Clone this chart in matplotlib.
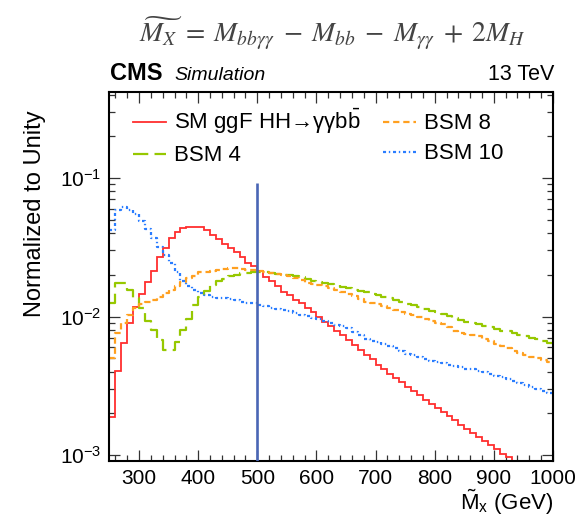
import numpy as np
import matplotlib
matplotlib.use("Agg")
import matplotlib.pyplot as plt
from matplotlib.ticker import MultipleLocator, LogLocator, NullFormatter

plt.rcParams['font.family'] = ['Liberation Sans', 'DejaVu Sans']
plt.rcParams['mathtext.fontset'] = 'custom'
plt.rcParams['mathtext.rm'] = 'Liberation Sans'
plt.rcParams['mathtext.it'] = 'Liberation Sans:italic'
plt.rcParams['mathtext.bf'] = 'Liberation Sans:bold'
plt.rcParams['mathtext.sf'] = 'Liberation Sans'
plt.rcParams['mathtext.fallback'] = 'stixsans'
plt.rcParams['lines.scale_dashes'] = False

# 10 GeV bins of the reconstructed mass M~x
bin_edges = np.arange(250, 1001, 10)

sm_ggf = [
    1.89e-3, 4.07e-3, 6.4e-3, 8.96e-3, 1.18e-2, 1.45e-2, 1.77e-2, 2.14e-2, 2.67e-2, 3.15e-2,
    3.72e-2, 4.11e-2, 4.35e-2, 4.44e-2, 4.46e-2, 4.40e-2, 4.22e-2, 3.90e-2, 3.65e-2, 3.33e-2,
    3.12e-2, 2.90e-2, 2.67e-2, 2.45e-2, 2.30e-2, 2.14e-2, 1.94e-2, 1.81e-2, 1.65e-2, 1.51e-2,
    1.42e-2, 1.32e-2, 1.25e-2, 1.15e-2, 1.07e-2, 9.9e-3, 9.2e-3, 8.6e-3, 7.9e-3, 7.3e-3,
    6.8e-3, 6.2e-3, 5.7e-3, 5.3e-3, 4.9e-3, 4.5e-3, 4.2e-3, 3.85e-3, 3.6e-3, 3.35e-3,
    3.1e-3, 2.9e-3, 2.7e-3, 2.5e-3, 2.35e-3, 2.2e-3, 2.05e-3, 1.9e-3, 1.78e-3, 1.65e-3,
    1.55e-3, 1.45e-3, 1.36e-3, 1.27e-3, 1.18e-3, 1.1e-3, 1.02e-3, 9.6e-4, 8.8e-4, 8.2e-4,
    7.5e-4, 7.0e-4, 6.5e-4, 6.0e-4, 5.5e-4,
]

bsm4 = [
    1.25e-2, 1.74e-2, 1.74e-2, 1.56e-2, 1.36e-2, 1.15e-2, 9.3e-3, 8.0e-3, 6.8e-3, 5.75e-3,
    5.75e-3, 6.6e-3, 8.0e-3, 9.6e-3, 1.21e-2, 1.39e-2, 1.54e-2, 1.69e-2, 1.80e-2, 1.88e-2,
    1.95e-2, 2.0e-2, 2.05e-2, 2.07e-2, 2.09e-2, 2.09e-2, 2.08e-2, 2.05e-2, 2.03e-2, 2.01e-2,
    1.98e-2, 1.96e-2, 1.93e-2, 1.88e-2, 1.82e-2, 1.78e-2, 1.76e-2, 1.72e-2, 1.68e-2, 1.64e-2,
    1.60e-2, 1.56e-2, 1.53e-2, 1.50e-2, 1.45e-2, 1.42e-2, 1.39e-2, 1.36e-2, 1.31e-2, 1.27e-2,
    1.24e-2, 1.21e-2, 1.17e-2, 1.13e-2, 1.10e-2, 1.07e-2, 1.04e-2, 1.01e-2, 9.8e-3, 9.5e-3,
    9.2e-3, 9.0e-3, 8.8e-3, 8.6e-3, 8.4e-3, 8.1e-3, 7.9e-3, 7.8e-3, 7.6e-3, 7.4e-3,
    7.2e-3, 7.0e-3, 6.85e-3, 6.65e-3, 6.45e-3,
]

bsm8 = [
    5.0e-3, 7.6e-3, 9.0e-3, 1.02e-2, 1.16e-2, 1.23e-2, 1.27e-2, 1.32e-2, 1.39e-2, 1.47e-2,
    1.56e-2, 1.65e-2, 1.77e-2, 1.89e-2, 1.97e-2, 2.08e-2, 2.1e-2, 2.14e-2, 2.17e-2, 2.21e-2,
    2.24e-2, 2.24e-2, 2.21e-2, 2.18e-2, 2.15e-2, 2.12e-2, 2.1e-2, 2.07e-2, 2.04e-2, 2.0e-2,
    1.96e-2, 1.9e-2, 1.85e-2, 1.76e-2, 1.72e-2, 1.68e-2, 1.65e-2, 1.6e-2, 1.55e-2, 1.5e-2,
    1.45e-2, 1.4e-2, 1.33e-2, 1.28e-2, 1.26e-2, 1.23e-2, 1.2e-2, 1.15e-2, 1.12e-2, 1.08e-2,
    1.05e-2, 1.03e-2, 1.0e-2, 9.6e-3, 9.3e-3, 9.0e-3, 8.8e-3, 8.4e-3, 7.9e-3, 7.6e-3,
    7.5e-3, 7.3e-3, 7.2e-3, 6.9e-3, 6.7e-3, 6.3e-3, 6.1e-3, 5.9e-3, 5.6e-3, 5.45e-3,
    5.3e-3, 5.1e-3, 5.0e-3, 4.85e-3, 4.7e-3,
]

bsm10 = [
    4.2e-2, 5.9e-2, 6.15e-2, 5.9e-2, 5.5e-2, 4.9e-2, 4.3e-2, 3.7e-2, 3.2e-2, 2.8e-2,
    2.45e-2, 2.1e-2, 1.82e-2, 1.65e-2, 1.55e-2, 1.48e-2, 1.43e-2, 1.39e-2, 1.37e-2, 1.35e-2,
    1.33e-2, 1.31e-2, 1.28e-2, 1.26e-2, 1.25e-2, 1.22e-2, 1.19e-2, 1.16e-2, 1.14e-2, 1.11e-2,
    1.09e-2, 1.06e-2, 1.03e-2, 1.01e-2, 9.8e-3, 9.6e-3, 9.3e-3, 9.0e-3, 8.7e-3, 8.5e-3,
    8.2e-3, 7.7e-3, 7.3e-3, 6.9e-3, 6.7e-3, 6.5e-3, 6.3e-3, 6.1e-3, 5.9e-3, 5.6e-3,
    5.4e-3, 5.25e-3, 5.1e-3, 4.95e-3, 4.8e-3, 4.7e-3, 4.6e-3, 4.5e-3, 4.4e-3, 4.3e-3,
    4.2e-3, 4.15e-3, 4.05e-3, 3.95e-3, 3.85e-3, 3.75e-3, 3.65e-3, 3.55e-3, 3.42e-3, 3.3e-3,
    3.2e-3, 3.1e-3, 3.0e-3, 2.9e-3, 2.82e-3,
]

labels = ["SM ggF HH→γγb$\\bar{\\mathrm{b}}$", "BSM 4", "BSM 8", "BSM 10"]

cut_value = 500.0      # M~x cut position (GeV)
cut_line_top = 0.092   # height of the cut marker

x_range = (250, 1000)
y_range = (9.1e-4, 0.42)

fig = plt.figure(figsize=(5.82, 5.19), dpi=100)
ax = fig.add_axes([0.1881, 0.1123, 0.762, 0.711])


def draw_hist(values, **kw):
    vals = np.asarray(values, dtype=float)
    ys = np.append(vals, vals[-1])
    (line,) = ax.plot(bin_edges, ys, drawstyle='steps-post', **kw)
    return line


h_sm = draw_hist(sm_ggf, color='#ff2e2e', lw=1.3, solid_joinstyle='miter')
h_b4 = draw_hist(bsm4, color='#96c800', lw=1.6, linestyle=(0, (11, 4.5)))
h_b8 = draw_hist(bsm8, color='#ffa020', lw=1.6, linestyle=(0, (4.5, 2.8)))
h_b10 = draw_hist(bsm10, color='#2a7dff', lw=1.6, linestyle=(0, (2.2, 2.0, 1.0, 2.0)))

ax.plot([cut_value, cut_value], [y_range[0], cut_line_top], color='#4a66b5', lw=1.9,
        solid_capstyle='butt', zorder=3)

ax.set_yscale('log')
ax.set_xlim(*x_range)
ax.set_ylim(*y_range)

ax.xaxis.set_major_locator(MultipleLocator(100))
ax.xaxis.set_minor_locator(MultipleLocator(20))
ax.yaxis.set_major_locator(LogLocator(base=10))
ax.yaxis.set_minor_locator(LogLocator(base=10, subs=np.arange(2, 10)))
ax.yaxis.set_minor_formatter(NullFormatter())

ax.tick_params(which='both', direction='in', top=True, right=True, labelsize=15,
               color='#333333')
ax.tick_params(which='major', length=8, width=0.9, pad=6)
ax.tick_params(which='minor', length=4, width=0.9)
for sp in ax.spines.values():
    sp.set_linewidth(1.5)

ax.set_ylabel("Normalized to Unity", fontsize=17, loc='top')
ax.yaxis.set_label_coords(-0.142, 0.95)
ax.set_xlabel("$\\tilde{\\mathrm{M}}_{\\mathrm{x}}$ (GeV)", fontsize=16, loc='right')
ax.xaxis.set_label_coords(1.0, -0.072)

ax.legend([h_sm, h_b4, h_b8, h_b10], labels, ncol=2, frameon=False, fontsize=16,
          loc='upper left', bbox_to_anchor=(0.053, 0.958), borderpad=0, borderaxespad=0,
          handlelength=1.5, handletextpad=0.35, columnspacing=1.0, labelspacing=0.4)

fig.text(0.189, 0.845, "CMS", fontsize=17, fontweight='bold', ha='left', va='baseline')
fig.text(0.299, 0.845, "Simulation", fontsize=14, fontstyle='italic', ha='left', va='baseline')
fig.text(0.952, 0.845, "13 TeV", fontsize=15.5, ha='right', va='baseline')

fig.text(0.571, 0.938,
         r"$\widetilde{M_X}\;=\;M_{bb\gamma\gamma}\;-\;M_{bb}\;-\;M_{\gamma\gamma}\;+\;2M_H$",
         math_fontfamily='stix', fontsize=20, color='#444444', ha='center', va='center')

fig.savefig("out.png", dpi=100)
